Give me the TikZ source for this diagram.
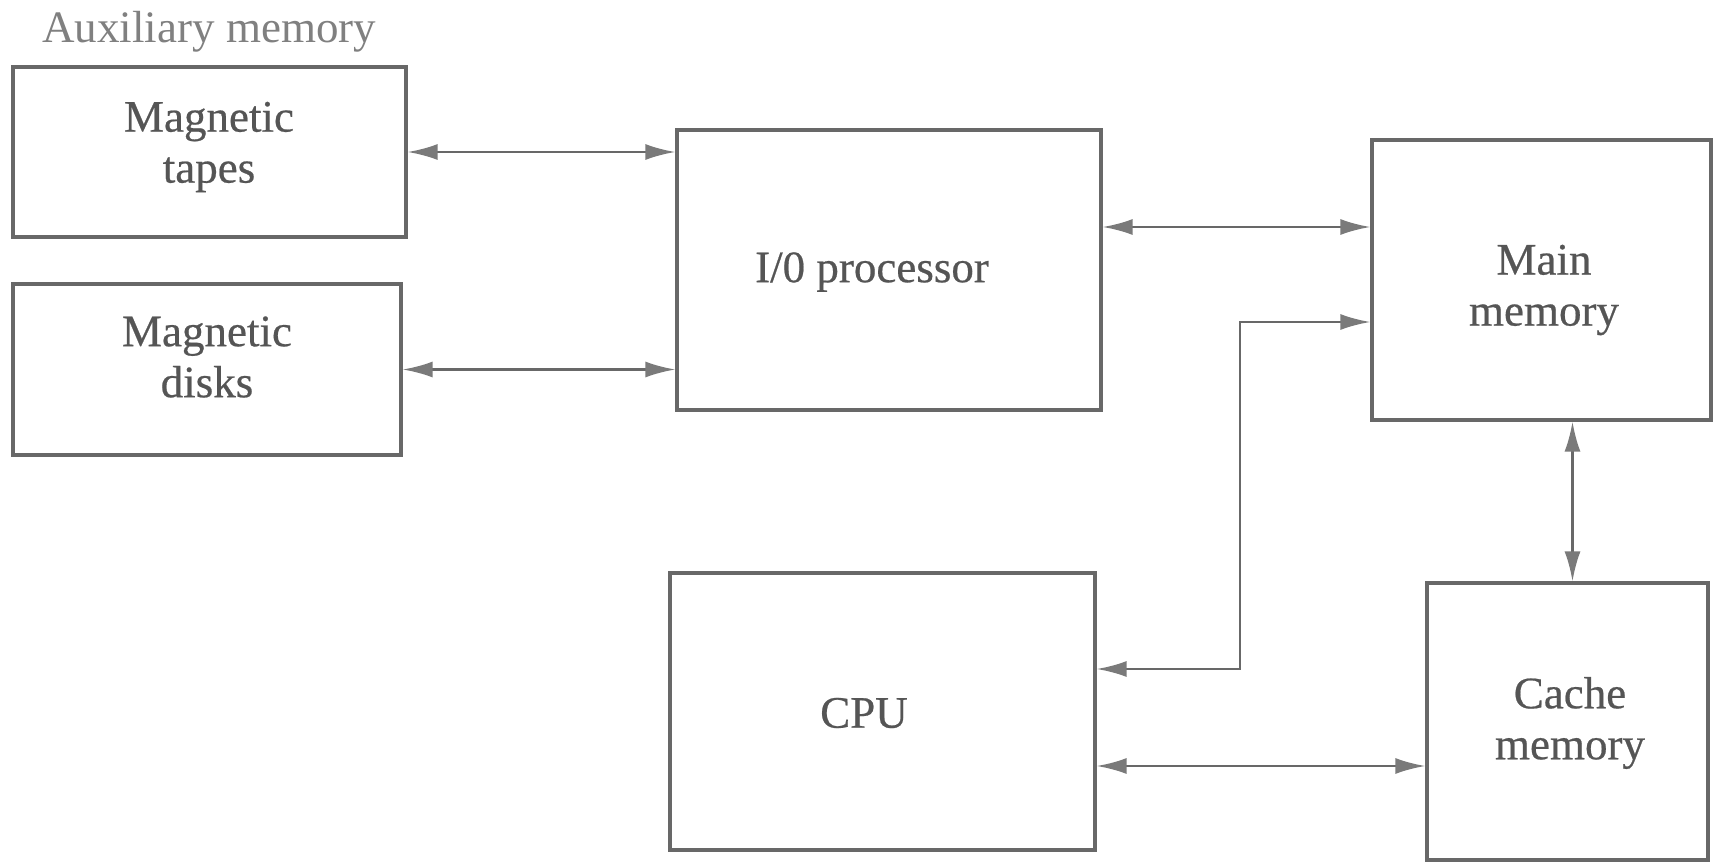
\documentclass[tikz,border=0pt]{standalone}
\usepackage{fontspec}
\setmainfont{Liberation Serif}
\newfontfamily\heavyserif{Liberation Serif}[FakeBold=0.5]
\usetikzlibrary{arrows.meta}
\definecolor{ln}{HTML}{686868}
\definecolor{hd}{HTML}{7a7a7a}
\definecolor{tx}{HTML}{555555}
\definecolor{tx2}{HTML}{808080}
\begin{document}
\begin{tikzpicture}[x=0.5pt,y=-0.5pt,
  box/.style={draw=ln, line width=1.6pt, inner sep=0pt},
  lbl/.style={text=tx, font=\heavyserif\fontsize{22.5}{25.5}\selectfont, align=center, inner sep=0pt},
  arr/.style={draw=ln, line width=1.3pt, {Latex[length=15pt,width=8pt,color=hd]}-{Latex[length=15pt,width=8pt,color=hd]}}]
\fill[white] (0,0) rectangle (1715,862);
\useasboundingbox (0,0) rectangle (1715,862);

\node[text=tx2, font=\fontsize{22.5}{25.5}\selectfont, inner sep=0pt, anchor=base west] (aux) at (42,42) {Auxiliary memory};

\node[box, minimum width=196.5pt, minimum height=85pt] (tapes) at (209.5,152) {};
\node[box, minimum width=194pt, minimum height=85.5pt] (disks) at (207,369.5) {};
\node[box, minimum width=212pt, minimum height=140pt] (io) at (889,270) {};
\node[box, minimum width=169.5pt, minimum height=140pt] (main) at (1541.5,280) {};
\node[box, minimum width=212.5pt, minimum height=138.5pt] (cpu) at (882.5,711.5) {};
\node[box, minimum width=140.5pt, minimum height=138.5pt] (cache) at (1567.5,721.5) {};

\node[lbl] (tl) at (209,147) {Magnetic\\tapes};
\node[lbl] (dl) at (207,357) {Magnetic\\disks};
\node[lbl] (iol) at (872,272) {I/0 processor};
\node[lbl] (ml) at (1544,290) {Main\\memory};
\node[lbl] (cpul) at (864,713) {CPU};
\node[lbl] (cl) at (1570,723) {Cache\\memory};

\coordinate (y1) at (0,227);
\coordinate (x2) at (1240,322);
\coordinate (y2) at (0,669);
\coordinate (y3) at (0,766);

\draw[arr] (tapes.east) -- (tapes.east -| io.west);
\draw[arr] (disks.east) -- (disks.east -| io.west);
\draw[arr] (io.east |- y1) -- (main.west |- y1);
\draw[arr] (cpu.east |- y2) -| (x2) -- (main.west |- x2);
\draw[arr] (cpu.east |- y3) -- (cache.west |- y3);
\draw[arr] ([xshift=2.5pt]cache.north) -- ([xshift=2.5pt]cache.north |- main.south);
\end{tikzpicture}
\end{document}
